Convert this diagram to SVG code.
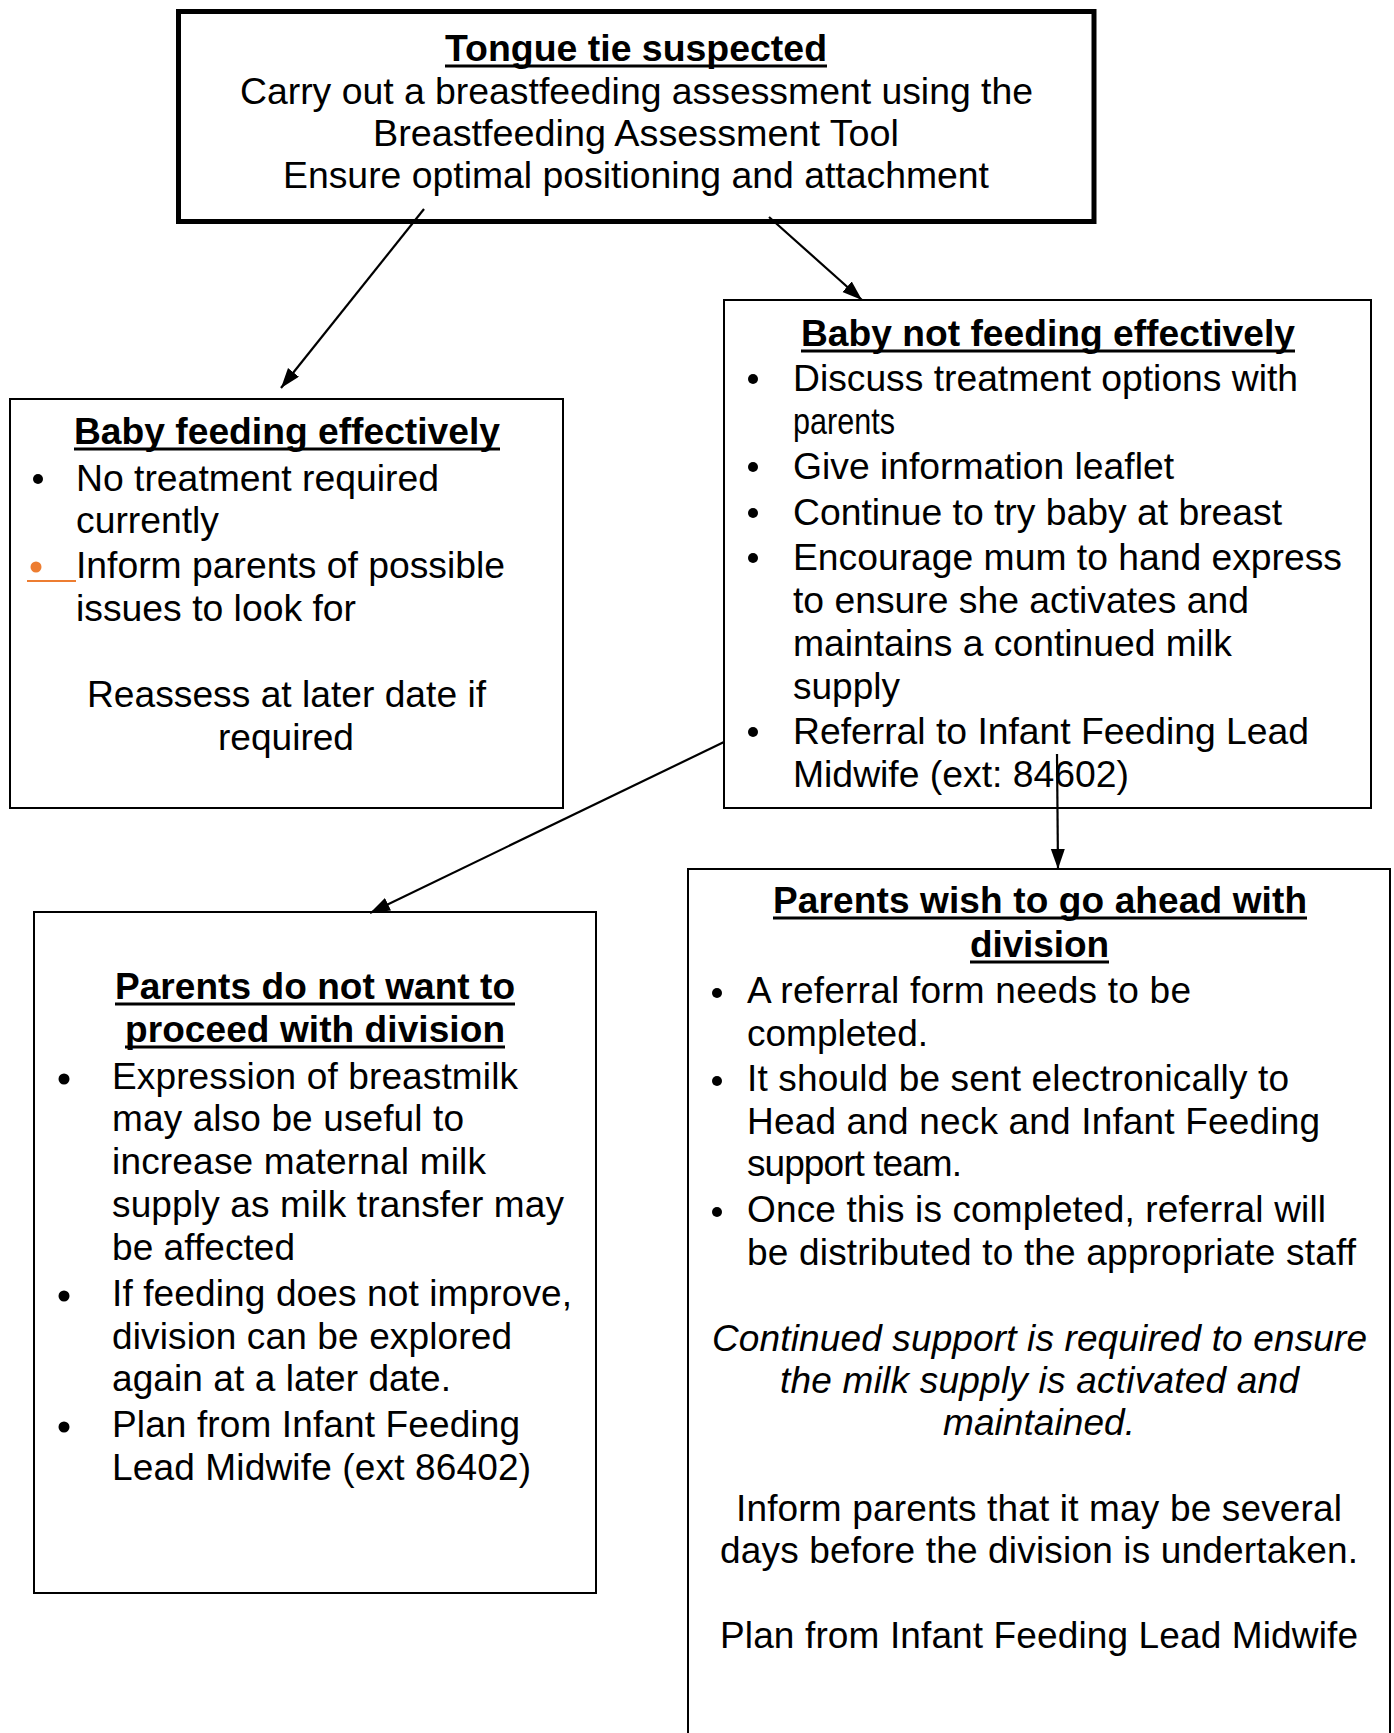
<svg xmlns="http://www.w3.org/2000/svg" width="1394" height="1733" viewBox="0 0 1394 1733">
<style>
.n{font-family:"Liberation Sans Narrow","Arial Narrow","Liberation Sans",Arial,sans-serif;font-size:37px;fill:#000}
.a{font-family:"Liberation Sans",Arial,sans-serif;font-size:37px;fill:#000}
.b{font-weight:bold}
.i{font-style:italic}
.box{fill:#fff;stroke:#000;stroke-width:2}
.ul{stroke:#000;stroke-width:3}
.con{stroke:#000;stroke-width:2.2;fill:none;marker-end:url(#ah)}
</style>
<defs>
<marker id="ah" markerUnits="userSpaceOnUse" markerWidth="22" markerHeight="16" refX="20" refY="7" orient="auto">
<path d="M0,0 L20,7 L0,14 z" fill="#000"/>
</marker>
</defs>
<rect width="1394" height="1733" fill="#fff"/>

<g id="n-top">
<rect x="178.5" y="11.5" width="915.5" height="210" fill="#fff" stroke="#000" stroke-width="5"/>
<text class="n b" x="445" y="61" textLength="382" lengthAdjust="spacingAndGlyphs">Tongue tie suspected</text>
<line class="ul" x1="445" y1="66" x2="827" y2="66"/>
<text class="n" x="240" y="104" textLength="793" lengthAdjust="spacingAndGlyphs">Carry out a breastfeeding assessment using the</text>
<text class="n" x="373" y="146" textLength="526" lengthAdjust="spacingAndGlyphs">Breastfeeding Assessment Tool</text>
<text class="n" x="283" y="188" textLength="706" lengthAdjust="spacingAndGlyphs">Ensure optimal positioning and attachment</text>
</g>

<g id="n-feeding">
<rect class="box" x="10" y="399" width="553" height="409"/>
<text class="n b" x="74" y="444" textLength="426" lengthAdjust="spacingAndGlyphs">Baby feeding effectively</text>
<line class="ul" x1="74" y1="449" x2="500" y2="449"/>
<circle cx="38" cy="479" r="5"/>
<text class="n" x="76" y="491" textLength="363" lengthAdjust="spacingAndGlyphs">No treatment required</text>
<text class="n" x="76" y="533" textLength="143" lengthAdjust="spacingAndGlyphs">currently</text>
<circle cx="36" cy="567" r="5.5" fill="#ED7D31"/>
<line x1="27" y1="581" x2="76" y2="581" stroke="#ED7D31" stroke-width="2"/>
<text class="n" x="76" y="578" textLength="429" lengthAdjust="spacingAndGlyphs">Inform parents of possible</text>
<text class="n" x="76" y="621" textLength="280" lengthAdjust="spacingAndGlyphs">issues to look for</text>
<text class="n" x="87" y="707" textLength="399" lengthAdjust="spacingAndGlyphs">Reassess at later date if</text>
<text class="n" x="218" y="750" textLength="136" lengthAdjust="spacingAndGlyphs">required</text>
</g>

<g id="n-notfeeding">
<rect class="box" x="724" y="300" width="647" height="508"/>
<text class="n b" x="801" y="346" textLength="494" lengthAdjust="spacingAndGlyphs">Baby not feeding effectively</text>
<line class="ul" x1="801" y1="351" x2="1295" y2="351"/>
<circle cx="753" cy="379" r="5"/>
<text class="n" x="793" y="391" textLength="505" lengthAdjust="spacingAndGlyphs">Discuss treatment options with</text>
<text class="n" x="793" y="434" textLength="102" lengthAdjust="spacingAndGlyphs">parents</text>
<circle cx="753" cy="467" r="5"/>
<text class="n" x="793" y="479" textLength="381" lengthAdjust="spacingAndGlyphs">Give information leaflet</text>
<circle cx="753" cy="513" r="5"/>
<text class="n" x="793" y="525" textLength="489" lengthAdjust="spacingAndGlyphs">Continue to try baby at breast</text>
<circle cx="753" cy="558" r="5"/>
<text class="n" x="793" y="570" textLength="549" lengthAdjust="spacingAndGlyphs">Encourage mum to hand express</text>
<text class="n" x="793" y="613" textLength="456" lengthAdjust="spacingAndGlyphs">to ensure she activates and</text>
<text class="n" x="793" y="656" textLength="439" lengthAdjust="spacingAndGlyphs">maintains a continued milk</text>
<text class="n" x="793" y="699" textLength="107" lengthAdjust="spacingAndGlyphs">supply</text>
<circle cx="753" cy="732" r="5"/>
<text class="n" x="793" y="744" textLength="516" lengthAdjust="spacingAndGlyphs">Referral to Infant Feeding Lead</text>
<text class="n" x="793" y="787" textLength="336" lengthAdjust="spacingAndGlyphs">Midwife (ext: 84602)</text>
</g>

<g id="n-decline">
<rect class="box" x="34" y="912" width="562" height="681"/>
<text class="a b" x="115" y="999" textLength="400">Parents do not want to</text>
<line class="ul" x1="115" y1="1004" x2="515" y2="1004"/>
<text class="a b" x="125" y="1042" textLength="380">proceed with division</text>
<line class="ul" x1="125" y1="1047" x2="505" y2="1047"/>
<circle cx="64" cy="1079" r="5.5"/>
<text class="a" x="112" y="1089" textLength="406">Expression of breastmilk</text>
<text class="a" x="112" y="1131" textLength="352">may also be useful to</text>
<text class="a" x="112" y="1174" textLength="374">increase maternal milk</text>
<text class="a" x="112" y="1217" textLength="452">supply as milk transfer may</text>
<text class="a" x="112" y="1260" textLength="183">be affected</text>
<circle cx="64" cy="1296" r="5.5"/>
<text class="a" x="112" y="1306" textLength="460">If feeding does not improve,</text>
<text class="a" x="112" y="1349" textLength="400">division can be explored</text>
<text class="a" x="112" y="1391" textLength="339">again at a later date.</text>
<circle cx="64" cy="1427" r="5.5"/>
<text class="a" x="112" y="1437" textLength="408">Plan from Infant Feeding</text>
<text class="a" x="112" y="1480" textLength="419">Lead Midwife (ext 86402)</text>
</g>

<g id="n-proceed">
<path d="M688,1733 V869 H1390 V1733" fill="#fff" stroke="#000" stroke-width="2"/>
<text class="a b" x="773" y="913" textLength="534">Parents wish to go ahead with</text>
<line class="ul" x1="773" y1="918" x2="1307" y2="918"/>
<text class="a b" x="970" y="957" textLength="139">division</text>
<line class="ul" x1="970" y1="962" x2="1109" y2="962"/>
<circle cx="717" cy="993" r="5"/>
<text class="a" x="747" y="1003" textLength="444">A referral form needs to be</text>
<text class="a" x="747" y="1046" textLength="181">completed.</text>
<circle cx="717" cy="1081" r="5"/>
<text class="a" x="747" y="1091" textLength="542">It should be sent electronically to</text>
<text class="a" x="747" y="1134" textLength="573">Head and neck and Infant Feeding</text>
<text class="a" x="747" y="1176" textLength="215">support team.</text>
<circle cx="717" cy="1212" r="5"/>
<text class="a" x="747" y="1222" textLength="579">Once this is completed, referral will</text>
<text class="a" x="747" y="1265" textLength="609">be distributed to the appropriate staff</text>
<text class="a i" x="712" y="1351" textLength="655">Continued support is required to ensure</text>
<text class="a i" x="780" y="1393" textLength="519">the milk supply is activated and</text>
<text class="a i" x="943" y="1435" textLength="192">maintained.</text>
<text class="a" x="736" y="1521" textLength="606">Inform parents that it may be several</text>
<text class="a" x="720" y="1563" textLength="638">days before the division is undertaken.</text>
<text class="a" x="720" y="1648" textLength="638">Plan from Infant Feeding Lead Midwife</text>
</g>

<g id="connectors">
<line class="con" x1="424" y1="209" x2="281" y2="388"/>
<line class="con" x1="769" y1="217" x2="862" y2="300"/>
<line class="con" x1="724" y1="742" x2="370" y2="913"/>
<line class="con" x1="1057" y1="754" x2="1058" y2="869"/>
</g>
</svg>
